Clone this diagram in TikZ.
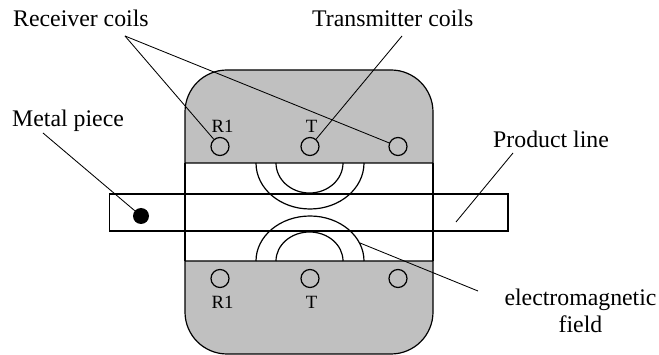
\documentclass[tikz,border=0pt]{standalone}
\usepackage{fontspec}
\setmainfont{Liberation Serif}
\definecolor{bodygray}{HTML}{C0C0C0}
\tikzset{
  x=1pt,y=-1pt,
  lab/.style={inner sep=0pt,font=\fontsize{23.8}{27}\selectfont,anchor=base west},
  small/.style={inner sep=0pt,font=\fontsize{18.7}{21}\selectfont,anchor=base},
  coil/.style={circle,draw,line width=1.2pt,minimum size=18pt,inner sep=0pt},
  lead/.style={line width=0.85pt},
  shell/.style={line width=1.2pt,draw=black},
}
\begin{document}
\begin{tikzpicture}
\useasboundingbox (0,0) rectangle (659,355);
% body
\path[shell,fill=bodygray] (185,163) -- (185,112) arc[start angle=180,end angle=270,radius=42] -- (391,70) arc[start angle=270,end angle=360,radius=42] -- (433,163) -- cycle;
\path[shell,fill=bodygray] (185,261) -- (185,312) arc[start angle=180,end angle=90,radius=42] -- (391,354) arc[start angle=90,end angle=0,radius=42] -- (433,261) -- cycle;
\draw[shell] (185,163) -- (185,261) (433,163) -- (433,261);
% field arcs
\draw[shell] (256,163) arc[start angle=180,end angle=0,x radius=54,y radius=46];
\draw[shell] (276,163) arc[start angle=180,end angle=0,x radius=33.5,y radius=30];
\draw[shell] (256,261) arc[start angle=180,end angle=360,x radius=54,y radius=45];
\draw[shell] (276,261) arc[start angle=180,end angle=360,x radius=33.5,y radius=29];
% product line
\node[draw,line width=1.2pt,minimum width=398.5pt,minimum height=37pt,inner sep=0pt] (line) at (308.75,212.5) {};
\node[circle,fill=black,minimum size=16pt,inner sep=0pt] (metal) at (141,216) {};
% coils
\node[coil] (c1) at (220,146.5) {};
\node[coil] (c2) at (310,146.5) {};
\node[coil] (c3) at (398,146.5) {};
\node[coil] (c4) at (220,278.5) {};
\node[coil] (c5) at (310,278.5) {};
\node[coil] (c6) at (398,278.5) {};
% coil labels
\node[small] (r1t) at (222.5,133) {R1};
\node[small] (tt) at (311.5,133) {T};
\node[small] (r1b) at (222.5,309) {R1};
\node[small] (tb) at (311.5,309) {T};
% labels
\node[lab] (recv) at (13,27) {Receiver coils};
\node[lab] (trans) at (312,27) {Transmitter coils};
\node[lab] (mp) at (12,127) {Metal piece};
\node[lab] (pl) at (493,148) {Product line};
\node[lab,anchor=base] (em) at (580.5,306) {electromagnetic};
\node[lab,anchor=base] (fd) at (580.5,333) {field};
% leaders
\coordinate (rv) at (125,36);
\coordinate (pe) at (456,222);
\coordinate (pt) at (513,153);
\coordinate (fe) at (360,243);
\coordinate (ee) at (478,291);
\coordinate (mt) at (43,133);
\coordinate (tr) at (402,36);
\draw[lead] (rv) -- (c1);
\draw[lead] (rv) -- (c3);
\draw[lead] (tr) -- (c2);
\draw[lead] (mt) -- (metal);
\draw[lead] (pt) -- (pe);
\draw[lead] (ee) -- (fe);
\end{tikzpicture}
\end{document}
